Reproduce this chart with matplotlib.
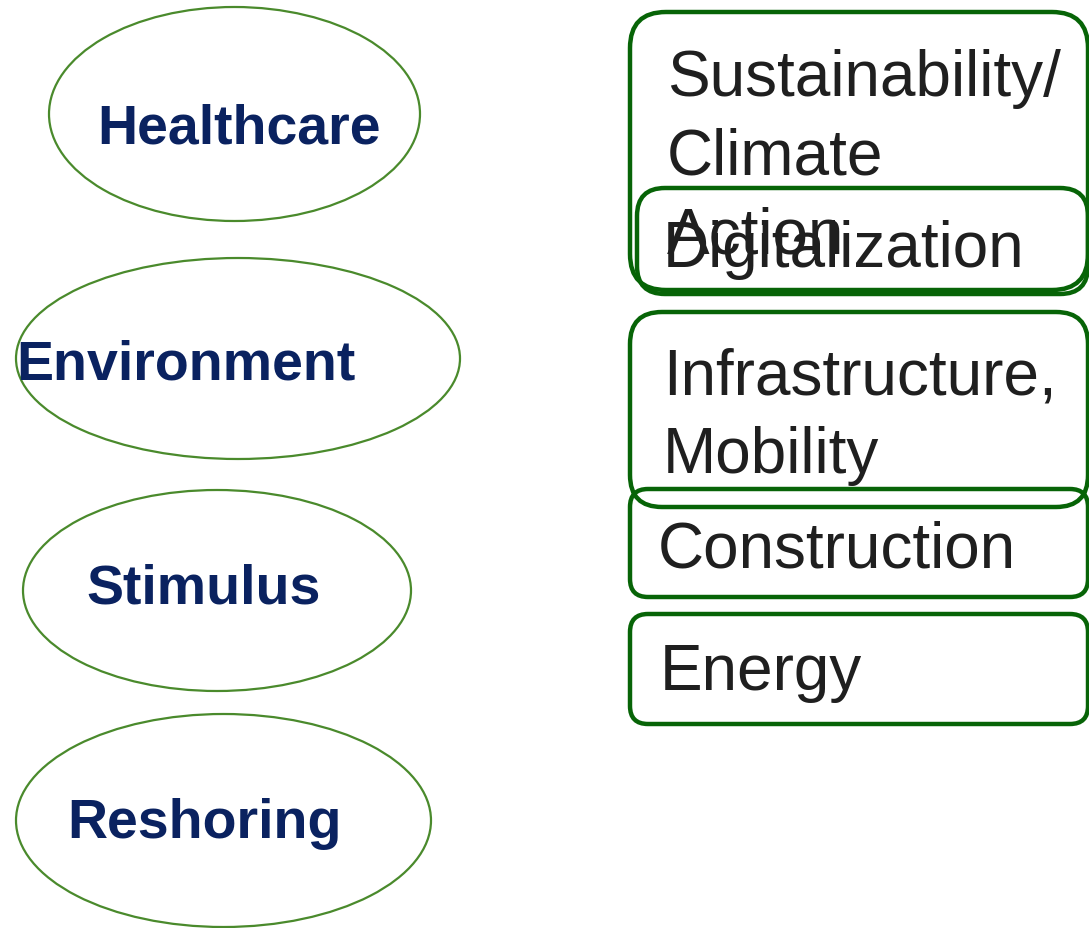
import matplotlib
matplotlib.use('Agg')
import matplotlib.pyplot as plt
from matplotlib.patches import Ellipse, FancyBboxPatch

plt.rcParams['font.family'] = ['Liberation Sans', 'DejaVu Sans']

# content
drivers = ["Healthcare", "Environment", "Stimulus", "Reshoring"]
sectors = ["Sustainability/\nClimate\nAction", "Digitalization",
           "Infrastructure,\nMobility", "Construction", "Energy"]

# layout in pixels (figure is 1089 x 929)
ell_center = [(234.5, 115), (238, 359.5), (217, 591.5), (223.5, 821.5)]
ell_size = [(371, 214), (444, 201), (388, 201), (415, 213)]
driver_xy = [(97, 143), (16, 379), (86, 604), (67, 838)]

# x, top, width, height
box_rect = [(630, 13, 458, 278), (637, 189, 451, 106), (630, 313, 458, 195),
            (630, 490, 458, 108), (630, 615, 458, 110)]
box_radius = [36, 28, 32, 18, 18]
# (x, baseline of last line)
sector_xy = [(667, 253), (663, 267), (663, 473), (658, 568), (660, 690)]

ell_color = '#4a8a2c'
box_color = '#076407'
driver_color = '#0a2260'
sector_color = '#1f1f1f'

fig = plt.figure(figsize=(10.89, 9.29), dpi=100)
ax = fig.add_axes([0, 0, 1, 1])
ax.set_xlim(0, 1089)
ax.set_ylim(929, 0)
ax.axis('off')

for name, c, s, (tx, ty) in zip(drivers, ell_center, ell_size, driver_xy):
    ax.add_patch(Ellipse(c, s[0], s[1], fill=False, edgecolor=ell_color, linewidth=1.6))
    ax.text(tx, ty, name, ha='left', va='baseline', fontsize=40,
            fontweight='bold', color=driver_color)

for name, (x, y, w, h), r, (tx, ty) in zip(sectors, box_rect, box_radius, sector_xy):
    ax.add_patch(FancyBboxPatch((x, y), w, h,
                                boxstyle=f"round,pad=0,rounding_size={r}",
                                fill=False, edgecolor=box_color, linewidth=3.2))
    ax.text(tx, ty, name, ha='left', va='baseline', fontsize=46,
            color=sector_color, linespacing=1.39)

fig.savefig('out.png', dpi=100)
